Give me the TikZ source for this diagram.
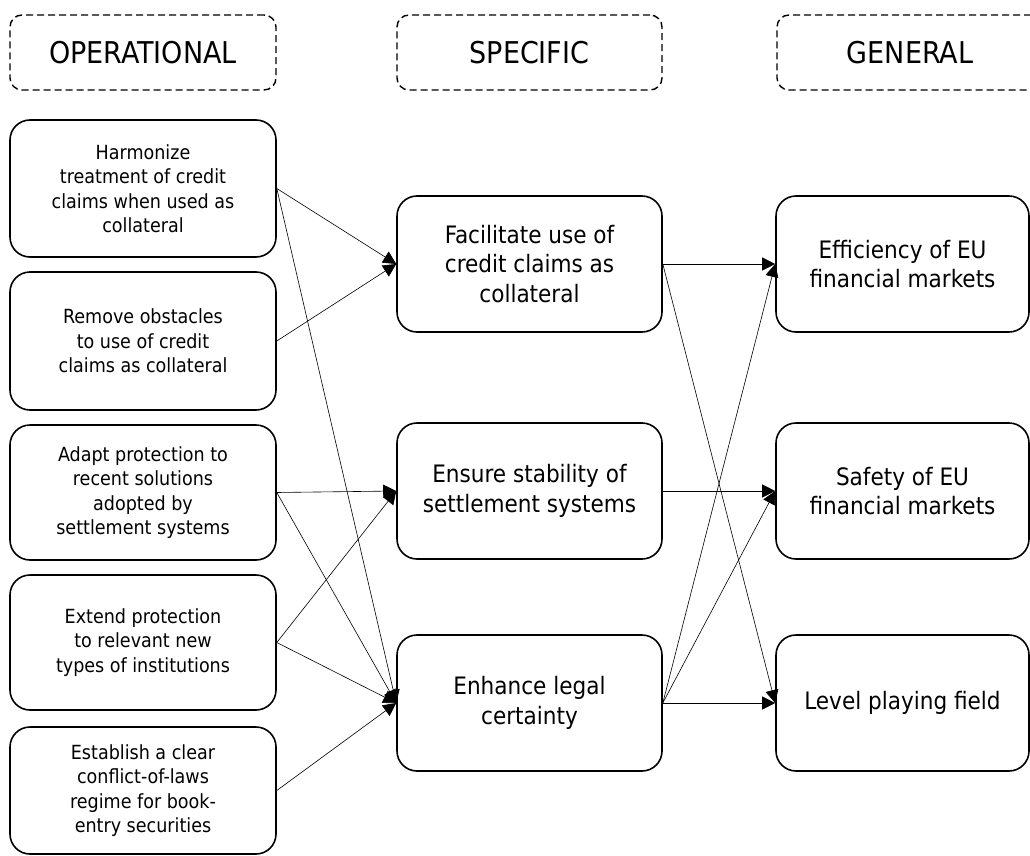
\documentclass[tikz,border=0pt]{standalone}
\usepackage{fontspec}
\setmainfont{DejaVu Sans Condensed}
\usetikzlibrary{arrows.meta}

\tikzset{
	headbox/.style={draw, line width=1.4pt, dash pattern=on 7pt off 4pt, rounded corners=12pt,
		minimum height=75pt, font=\fontsize{30}{34}\selectfont},
	goalbox/.style={draw, line width=1.6pt, rounded corners=20pt, align=center},
	opbox/.style={goalbox, minimum width=266pt, font=\fontsize{19.5}{24.5}\selectfont},
	spbox/.style={goalbox, minimum width=265pt, minimum height=136pt, font=\fontsize{24}{29.5}\selectfont},
	gebox/.style={goalbox, minimum width=253pt, minimum height=136pt, font=\fontsize{24}{28.5}\selectfont},
	link/.style={line width=0.6pt, -{Triangle[length=13pt,width=13pt]}}
}

\begin{document}
\begin{tikzpicture}[x=1pt, y=-1pt]
			%%%%% START %%%%%
			\useasboundingbox (0,0) rectangle (1030,856);
			\clip (0,0) rectangle (1030,856);
			
			% headings
			\node[headbox, minimum width=266pt] (hop) at (143,52.5) {OPERATIONAL};
			\node[headbox, minimum width=265pt] (hsp) at (529.5,52.5) {SPECIFIC};
			\node[headbox, minimum width=266pt] (hge) at (910,52.5) {GENERAL};
			
			% operational objectives
			\node[opbox, minimum height=137pt] (op1) at (143,188.5)
				{Harmonize\\treatment of credit\\claims when used as\\collateral};
			\node[opbox, minimum height=138pt] (op2) at (143,341)
				{Remove obstacles\\to use of credit\\claims as collateral};
			\node[opbox, minimum height=135pt] (op3) at (143,492.5)
				{Adapt protection to\\recent solutions\\adopted by\\settlement systems};
			\node[opbox, minimum height=135pt] (op4) at (143,642.5)
				{Extend protection\\to relevant new\\types of institutions};
			\node[opbox, minimum height=127pt] (op5) at (143,790.5)
				{Establish a clear\\conflict-of-laws\\regime for book-\\entry securities};
			
			% specific objectives
			\node[spbox] (sp1) at (529.5,264)
				{Facilitate use of\\credit claims as\\collateral};
			\node[spbox] (sp2) at (529.5,491)
				{Ensure stability of\\settlement systems};
			\node[spbox] (sp3) at (529.5,703)
				{Enhance legal\\certainty};
			
			% general objectives
			\node[gebox] (ge1) at (902.5,264)
				{Efficiency of EU\\financial markets};
			\node[gebox] (ge2) at (902.5,491)
				{Safety of EU\\financial markets};
			\node[gebox] (ge3) at (902.5,703)
				{Level playing field};
			
			% links
			\draw[link] (op1.east) -- (sp1.west);
			\draw[link] (op1.east) -- (sp3.west);
			\draw[link] (op2.east) -- (sp1.west);
			\draw[link] (op3.east) -- (sp2.west);
			\draw[link] (op3.east) -- (sp3.west);
			\draw[link] (op4.east) -- (sp2.west);
			\draw[link] (op4.east) -- (sp3.west);
			\draw[link] (op5.east) -- (sp3.west);
			
			\draw[link] (sp1.east) -- (ge1.west);
			\draw[link] (sp1.east) -- (ge3.west);
			\draw[link] (sp2.east) -- (ge2.west);
			\draw[link] (sp3.east) -- (ge1.west);
			\draw[link] (sp3.east) -- (ge2.west);
			\draw[link] (sp3.east) -- (ge3.west);
			%%%%% END %%%%%
		\end{tikzpicture}
\end{document}
